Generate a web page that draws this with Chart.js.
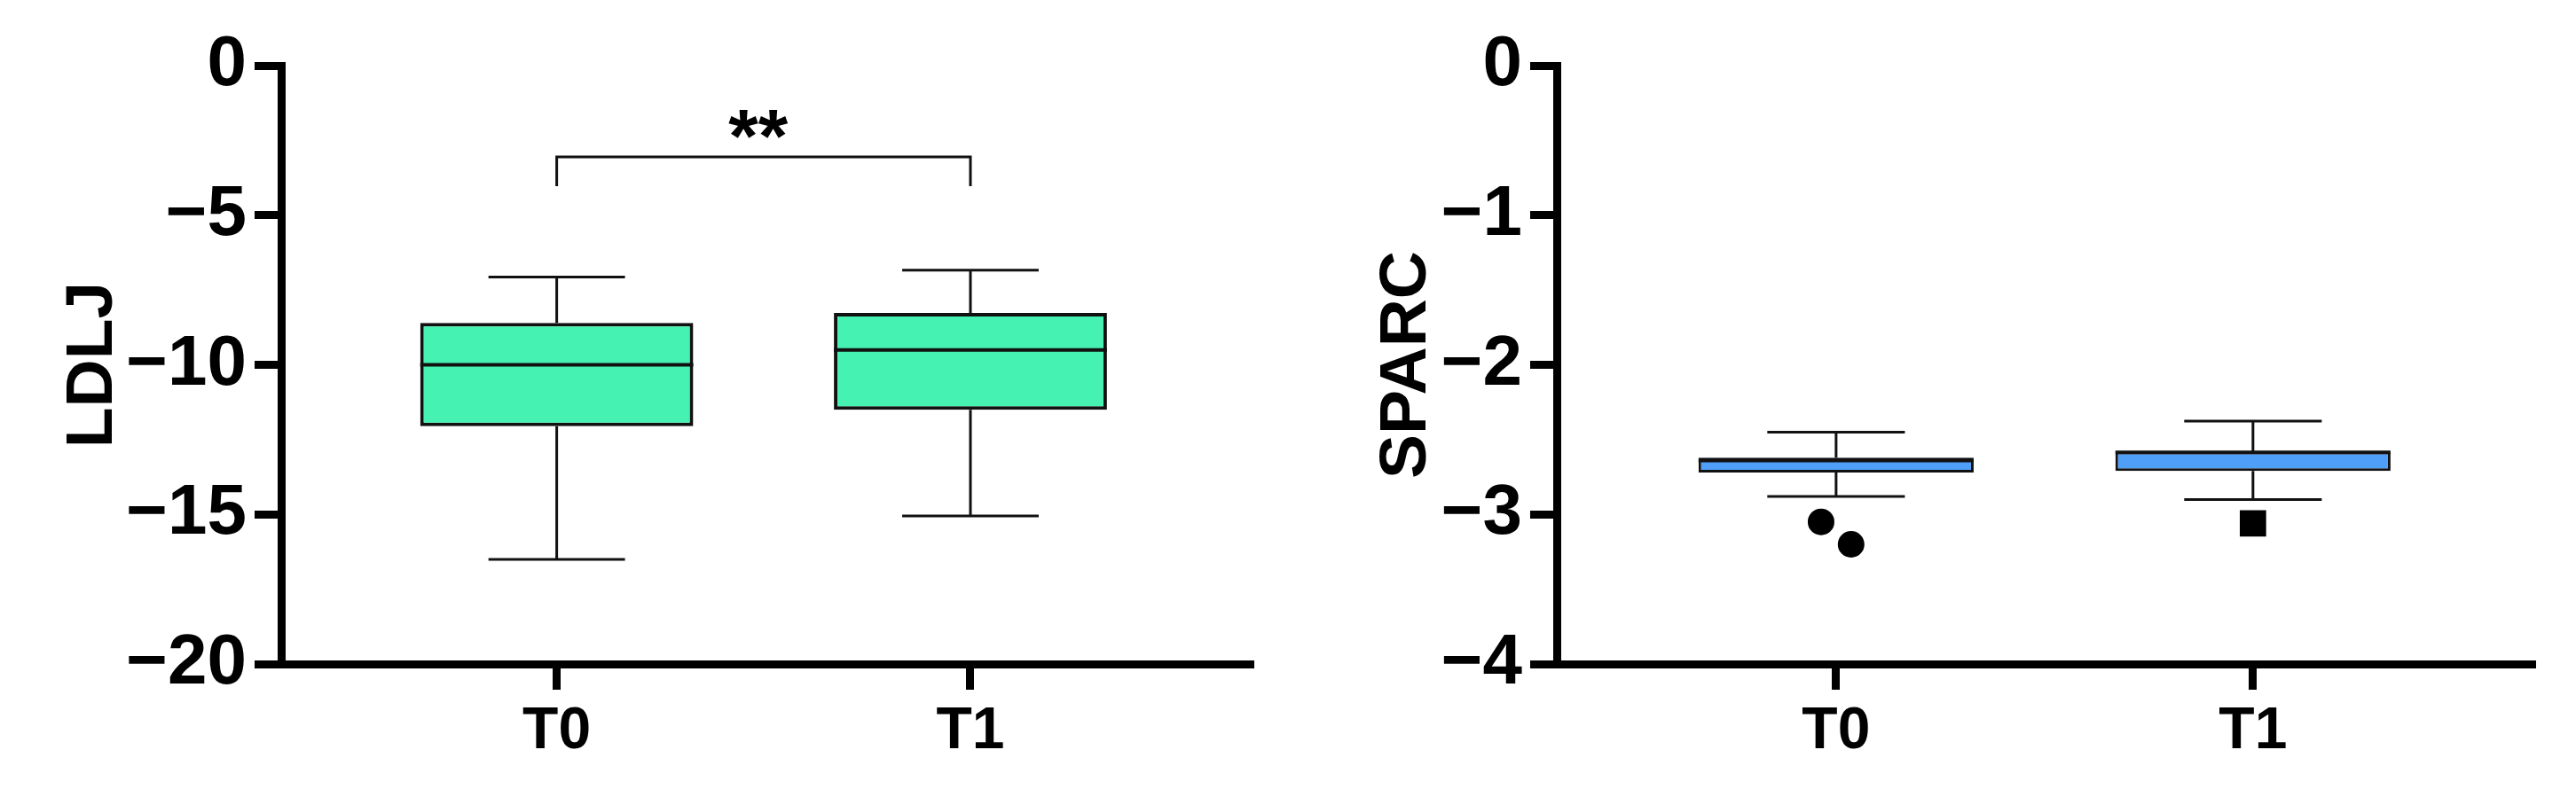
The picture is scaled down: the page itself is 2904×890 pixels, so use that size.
<!DOCTYPE html>
<html>
<head>
<meta charset="utf-8">
<script src="https://cdn.jsdelivr.net/npm/chart.js@4.4.1/dist/chart.umd.min.js"></script>
<style>
  body { margin: 0; background: #fff; }
  #wrap { position: relative; width: 2904px; height: 890px; }
  canvas { position: absolute; top: 0; }
  #ldlj { left: 0; }
  #sparc { left: 1452px; }
</style>
</head>
<body>
<div id="wrap">
  <canvas id="ldlj" width="1452" height="890"></canvas>
  <canvas id="sparc" width="1452" height="890"></canvas>
</div>
<script>
// categories
const categories = ['T0', 'T1'];

// LDLJ box stats
const ldljMin = [-16.5, -15.05];
const ldljQ1 = [-12.05, -11.5];
const ldljMedian = [-10.0, -9.5];
const ldljQ3 = [-8.6, -8.27];
const ldljMax = [-7.07, -6.84];
const ldljTicks = [-20, -15, -10, -5, 0];

// SPARC box stats
const sparcMin = [-2.88, -2.9];
const sparcQ1 = [-2.72, -2.71];
const sparcMedian = [-2.64, -2.585];
const sparcQ3 = [-2.62, -2.58];
const sparcMax = [-2.45, -2.376];
const sparcOutT0 = [-3.05, -3.2];
const sparcOutT1 = [-3.06];
const sparcTicks = [-4, -3, -2, -1, 0];

// significance (LDLJ, T0 vs T1)
const sigPair = [0, 1];
const sigBarY = -3.05;
const sigLegY = -4.03;
const sigText = '**';

const FONT = '"Liberation Sans", Arial, Helvetica, sans-serif';
const BOX_W = 0.66;   // box width in category units
const CAP_W = 0.33;

// whiskers, caps, medians and bracket drawn through the chart scales
function boxLayer(st) {
  return {
    id: 'boxLayer',
    afterDatasetsDraw(chart) {
      const {ctx, scales: {x, y}} = chart;
      ctx.save();
      ctx.strokeStyle = '#111';
      st.min.forEach((lo, i) => {
        const cx = x.getPixelForValue(i);
        const cap = x.getPixelForValue(i + CAP_W / 2) - cx;
        const half = x.getPixelForValue(i + BOX_W / 2) - cx;
        ctx.lineWidth = 3;
        ctx.beginPath();
        ctx.moveTo(cx, y.getPixelForValue(st.q3[i]));
        ctx.lineTo(cx, y.getPixelForValue(st.max[i]));
        ctx.moveTo(cx, y.getPixelForValue(st.q1[i]));
        ctx.lineTo(cx, y.getPixelForValue(lo));
        ctx.moveTo(cx - cap, y.getPixelForValue(st.max[i]));
        ctx.lineTo(cx + cap, y.getPixelForValue(st.max[i]));
        ctx.moveTo(cx - cap, y.getPixelForValue(lo));
        ctx.lineTo(cx + cap, y.getPixelForValue(lo));
        ctx.stroke();
        ctx.lineWidth = st.medianWidth;
        ctx.beginPath();
        ctx.moveTo(cx - half, y.getPixelForValue(st.median[i]));
        ctx.lineTo(cx + half, y.getPixelForValue(st.median[i]));
        ctx.stroke();
      });
      if (st.sig) {
        const x0 = x.getPixelForValue(st.sig.pair[0]);
        const x1 = x.getPixelForValue(st.sig.pair[1]);
        const yb = y.getPixelForValue(st.sig.bar);
        const yl = y.getPixelForValue(st.sig.leg);
        ctx.lineWidth = 3;
        ctx.beginPath();
        ctx.moveTo(x0, yl); ctx.lineTo(x0, yb); ctx.lineTo(x1, yb); ctx.lineTo(x1, yl);
        ctx.stroke();
        ctx.fillStyle = '#000';
        ctx.font = 'bold 86px ' + FONT;
        ctx.textAlign = 'center';
        ctx.textBaseline = 'alphabetic';
        ctx.fillText(st.sig.text, (x0 + x1) / 2 - 6, yb + 6);
      }
      ctx.restore();
    }
  };
}

function makeChart(id, o) {
  const datasets = [{
    type: 'bar',
    data: categories.map((c, i) => ({x: i, y: [o.q1[i], o.q3[i]]})),
    backgroundColor: o.fill,
    borderColor: '#111',
    borderWidth: o.boxBorder,
    borderSkipped: false,
    barPercentage: BOX_W,
    categoryPercentage: 1,
    order: 2
  }];
  (o.outliers || []).forEach(set => {
    datasets.push({
      type: 'scatter',
      data: set.values.map((v, k) => ({x: set.cat + set.jitter[k], y: v})),
      pointStyle: set.style,
      pointRadius: set.radius,
      backgroundColor: '#000',
      borderColor: '#000',
      borderWidth: 0,
      order: 1
    });
  });

  return new Chart(document.getElementById(id), {
    type: 'bar',
    data: {datasets},
    plugins: [boxLayer(o)],
    options: {
      responsive: false,
      animation: false,
      devicePixelRatio: 1,
      layout: {padding: {left: 0, top: 74, right: o.padRight, bottom: 0}},
      plugins: {legend: {display: false}, tooltip: {enabled: false}},
      scales: {
        x: {
          type: 'linear',
          offset: false,
          min: o.xMin, max: o.xMax,
          afterFit: s => { s.height = 141; },
          afterBuildTicks: s => { s.ticks = categories.map((c, i) => ({value: i})); },
          border: {display: true, width: 9, color: '#000'},
          grid: {display: true, offset: false, drawOnChartArea: false, drawTicks: true, tickLength: 29, tickWidth: 9, tickColor: '#000'},
          ticks: {
            padding: 8,
            color: '#000',
            font: {family: FONT, size: 66, weight: 'bold'},
            callback: v => categories[v]
          }
        },
        y: {
          min: o.ticks[0], max: o.ticks[o.ticks.length - 1],
          afterFit: s => { s.width = o.yWidth; },
          afterBuildTicks: s => { s.ticks = o.ticks.map(v => ({value: v})); },
          border: {display: true, width: 9, color: '#000'},
          grid: {display: true, drawOnChartArea: false, drawTicks: true, tickLength: 30, tickWidth: 9, tickColor: '#000'},
          ticks: {
            padding: 9,
            color: '#000',
            font: {family: FONT, size: 80, weight: 'bold'},
            callback: v => String(v).replace('-', '\u2212')
          },
          title: {
            display: true,
            text: o.title,
            color: '#000',
            font: {family: FONT, size: 75, weight: 'bold'},
            padding: {top: o.titlePad, bottom: 0}
          }
        }
      }
    }
  });
}

makeChart('ldlj', {
  title: 'LDLJ',
  min: ldljMin, q1: ldljQ1, median: ldljMedian, q3: ldljQ3, max: ldljMax,
  ticks: ldljTicks,
  fill: '#45f2b2',
  boxBorder: 4,
  medianWidth: 4,
  sig: {pair: sigPair, bar: sigBarY, leg: sigLegY, text: sigText},
  xMin: -0.666, xMax: 1.684,
  yWidth: 317, titlePad: 60, padRight: 39
});

makeChart('sparc', {
  title: 'SPARC',
  min: sparcMin, q1: sparcQ1, median: sparcMedian, q3: sparcQ3, max: sparcMax,
  ticks: sparcTicks,
  fill: '#4f9ef7',
  boxBorder: 3,
  medianWidth: 4,
  outliers: [
    {cat: 0, values: sparcOutT0, jitter: [-0.036, 0.036], style: 'circle', radius: 15},
    {cat: 1, values: sparcOutT1, jitter: [0], style: 'rect', radius: 21}
  ],
  xMin: -0.67, xMax: 1.677,
  yWidth: 303, titlePad: 89, padRight: 46
});
</script>
</body>
</html>
